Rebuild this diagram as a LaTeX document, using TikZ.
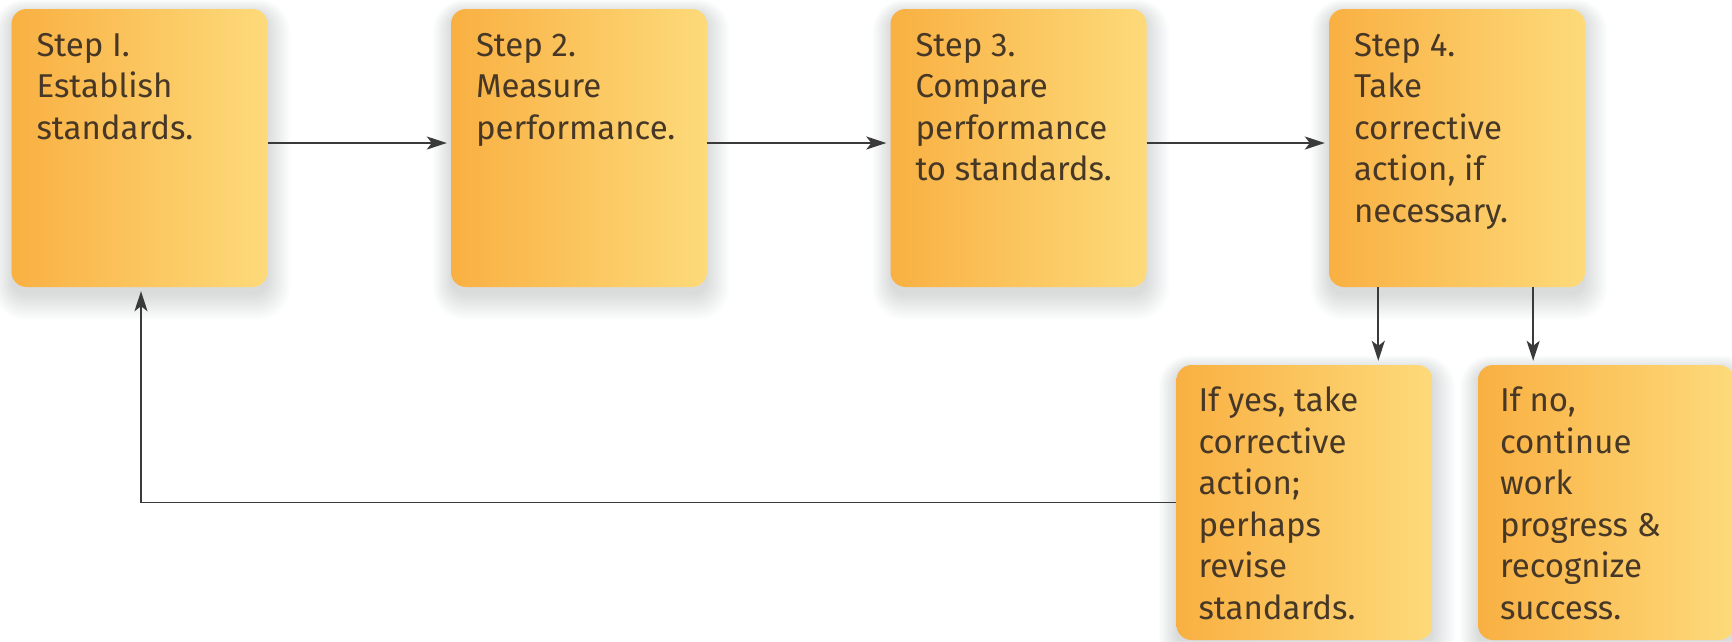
\documentclass[tikz,border=0pt]{standalone}
\usepackage{fontspec}
\setmainfont{Fira Sans}
\usetikzlibrary{arrows.meta,calc}
\definecolor{boxL}{RGB}{249,176,66}
\definecolor{boxR}{RGB}{253,218,122}
\definecolor{txtC}{RGB}{70,55,38}
\definecolor{lineC}{RGB}{58,58,58}
\definecolor{shadC}{RGB}{60,70,90}
\pgfdeclarelayer{bg}
\pgfsetlayers{bg,main}
\tikzset{
  stepbox/.style={rectangle, rounded corners=15pt, inner sep=0pt,
    left color=boxL, right color=boxR, draw=none},
  bigbox/.style={stepbox, minimum width=256pt, minimum height=278pt},
  lowbox/.style={stepbox, minimum width=256pt, minimum height=275pt},
  boxtext/.style={anchor=north west, inner sep=0pt, align=left, text=txtC,
    font=\fontsize{33}{41.5}\selectfont},
  shad/.style={fill=shadC, fill opacity=0.014, draw=none},
  arr/.style={draw=lineC, line width=1.8pt, -{Stealth[length=20pt,width=13pt,inset=5pt]}, shorten >=4pt}
}
\begin{document}
\begin{tikzpicture}[x=1pt,y=-1pt]
\useasboundingbox (0,0) rectangle (1732,641);
% boxes
\node[bigbox] (s1) at (139.5,148) {};
\node[bigbox] (s2) at (579,148) {};
\node[bigbox] (s3) at (1018.5,148) {};
\node[bigbox] (s4) at (1457,148) {};
\node[lowbox] (s5) at (1304.5,502.5) {};
\node[lowbox] (s6) at (1606,502.5) {};
% soft shadows
\begin{pgfonlayer}{bg}
\fill[white] (0,0) rectangle (1732,641);
\foreach \b in {s1,s2,s3,s4,s5,s6}{
  \foreach \i in {0,...,11}{
    \fill[shad, rounded corners=15pt+\i*1.5pt]
      ([shift={(-\i*1.6pt,-4pt+\i*1.2pt)}]\b.north west) rectangle
      ([shift={(\i*2pt,-8pt-\i*2.2pt)}]\b.south east);
  }
}
\end{pgfonlayer}
% texts
\node[boxtext] (t1) at ([shift={(25pt,-24pt)}]s1.north west) {Step I.\\Establish\\standards.};
\node[boxtext] (t2) at ([shift={(25pt,-24pt)}]s2.north west) {Step 2.\\Measure\\performance.};
\node[boxtext] (t3) at ([shift={(25pt,-24pt)}]s3.north west) {Step 3.\\Compare\\performance\\to standards.};
\node[boxtext] (t4) at ([shift={(25pt,-24pt)}]s4.north west) {Step 4.\\Take\\corrective\\action, if\\necessary.};
\node[boxtext] (t5) at ([shift={(22pt,-22pt)}]s5.north west) {If yes, take\\corrective\\action;\\perhaps\\revise\\standards.};
\node[boxtext] (t6) at ([shift={(22pt,-22pt)}]s6.north west) {If no,\\continue\\work\\progress \&\\recognize\\success.};
% connectors
\draw[arr] ([yshift=5pt]s1.east) -- ([yshift=5pt]s2.west);
\draw[arr] ([yshift=5pt]s2.east) -- ([yshift=5pt]s3.west);
\draw[arr] ([yshift=5pt]s3.east) -- ([yshift=5pt]s4.west);
\draw[arr] ($(s4.south west)!0.193!(s4.south east)$) coordinate (d1) -- (d1 |- s5.north);
\draw[arr] ($(s4.south west)!0.797!(s4.south east)$) coordinate (d2) -- (d2 |- s6.north);
\draw[arr] (s5.west) -| ([xshift=1.5pt]s1.south);
\end{tikzpicture}
\end{document}
